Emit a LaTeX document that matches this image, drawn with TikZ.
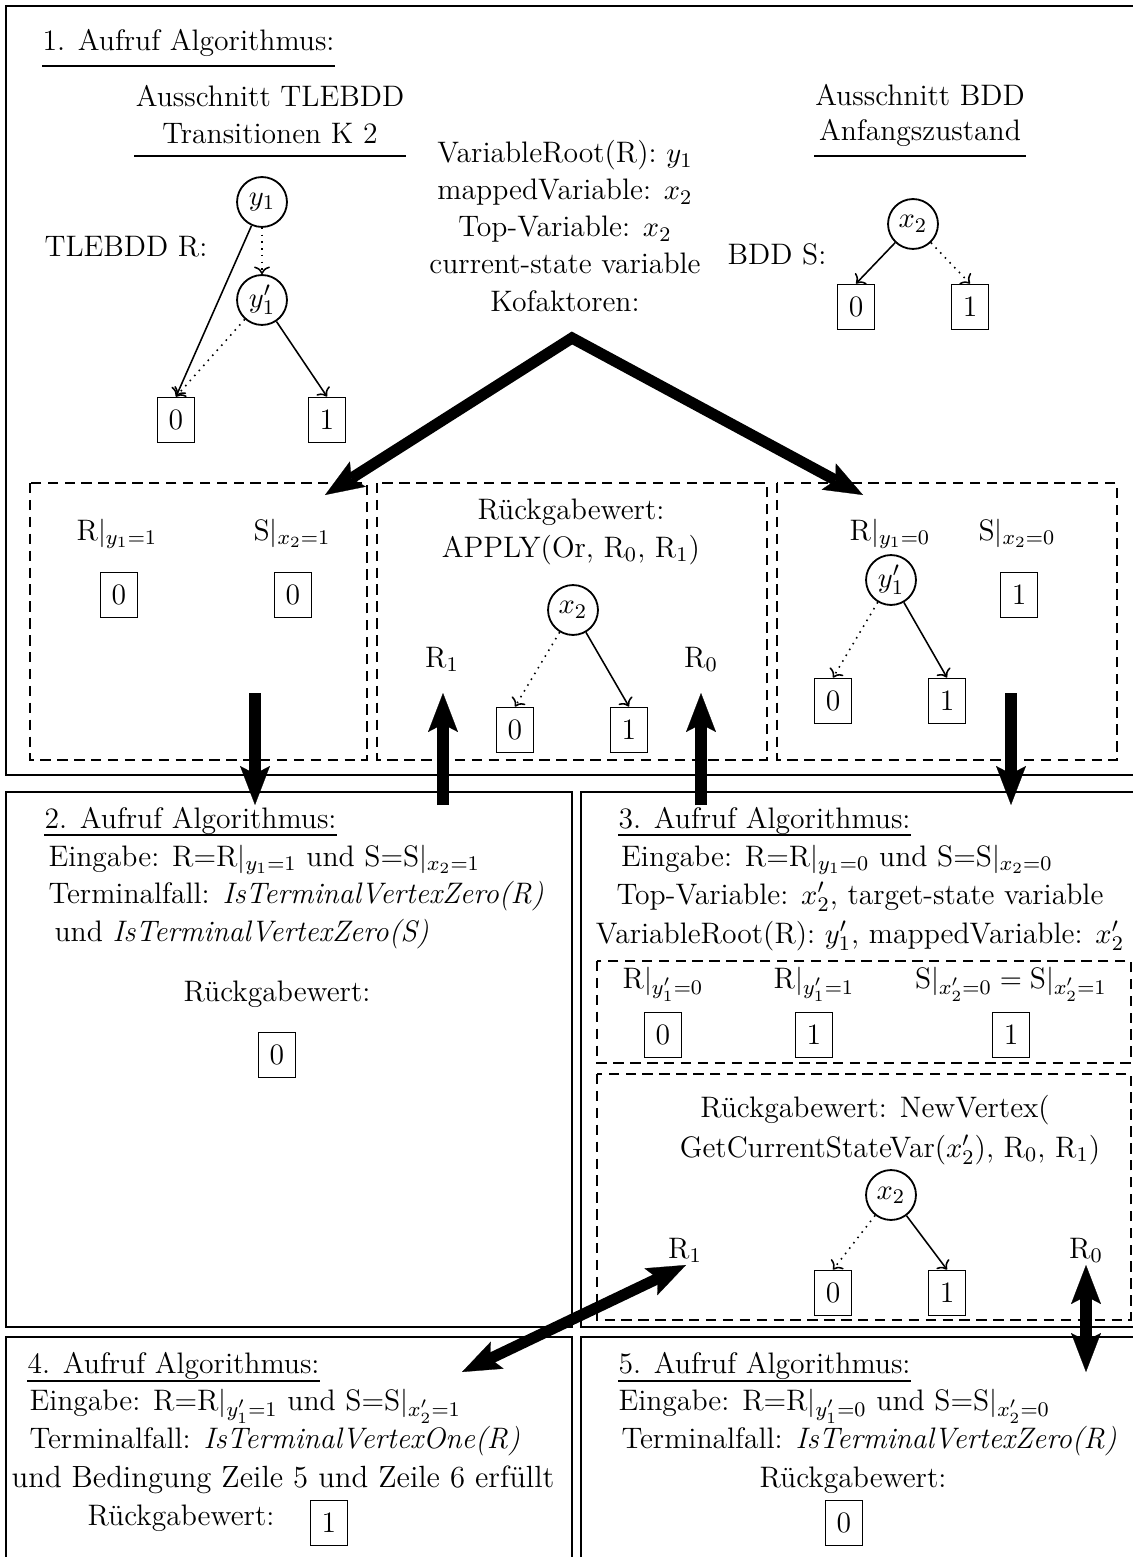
\documentclass[tikz,border=0pt]{standalone}
\usepackage{fontspec}
\usetikzlibrary{arrows.meta,calc}
\begin{document}
\begin{tikzpicture}[x=0.3846pt,y=-0.3846pt,
  font=\fontsize{11.4}{14}\selectfont,
  frame/.style={draw, line width=0.9pt},
  dbox/.style={draw, line width=0.8pt, dash pattern=on 4pt off 2.5pt},
  var/.style={circle, draw, line width=0.7pt, minimum size=19.2pt, inner sep=0pt},
  term/.style={draw, line width=0.7pt, minimum width=14.2pt, minimum height=17.3pt, inner sep=0pt},
  txt/.style={inner sep=0pt, anchor=base},
  txtl/.style={inner sep=0pt, anchor=base west},
  hi/.style={->, line width=0.6pt},
  lo/.style={->, line width=0.6pt, dotted},
  uline/.style={line width=0.8pt},
  bigtip/.tip={Stealth[length=15pt,width=11.5pt,inset=3pt,line width=0.1pt]},
  big/.style={line width=4.3pt, -bigtip},
  bigtwo/.style={line width=4.3pt, bigtip-bigtip},
]
\useasboundingbox (0,0) rectangle (1133,1557);

% frames
\draw[frame] (6,6) rectangle (1145,775);
\draw[frame] (6,792) rectangle (572,1327);
\draw[frame] (581,792) rectangle (1145,1327);
\draw[frame] (6,1337) rectangle (572,1575);
\draw[frame] (581,1337) rectangle (1145,1575);

% dashed boxes
\draw[dbox] (30,483) rectangle (367,760);
\draw[dbox] (377,483) rectangle (767,760);
\draw[dbox] (777,483) rectangle (1117,760);
\draw[dbox] (597,961) rectangle (1131,1063);
\draw[dbox] (597,1074) rectangle (1131,1320);

% ---------- Box 1 ----------
\node[txtl] (t1) at (42,51) {1. Aufruf Algorithmus:};
\draw[uline] ($(t1.base west)+(0,15)$) -- ($(t1.base east)+(0,15)$);

\node[txt] (tla) at (270,107) {Ausschnitt TLEBDD};
\node[txt] (tlb) at (270,144) {Transitionen K 2};
\draw[uline] ($(tlb.base)+(-136,12)$) -- ($(tlb.base)+(136,12)$);
\node[txt] (tlr) at (126,257) {TLEBDD R:};
\node[var] (ya) at (262,202) {$y_1$};
\node[var] (yb) at (262,300) {$y_1'$};
\node[term] (ra) at (176,420) {0};
\node[term] (rb) at (327,420) {1};
\draw[hi] (ya) -- (ra.north);
\draw[lo] (ya) -- (yb);
\draw[lo] (yb) -- (ra.north);
\draw[hi] (yb) -- (rb.north);

\node[txt] (vr) at (565,163) {VariableRoot(R): $y_1$};
\node[txt] (mv) at (565,200) {mappedVariable: $x_2$};
\node[txt] (tv) at (565,237) {Top-Variable: $x_2$};
\node[txt] (cs) at (565,274) {current-state variable};
\node[txt] (kf) at (565,311) {Kofaktoren:};

\node[txt] (ba) at (920,106) {Ausschnitt BDD};
\node[txt] (bb) at (920,141) {Anfangszustand};
\draw[uline] ($(bb.base)+(-106,15)$) -- ($(bb.base)+(106,15)$);
\node[txt] (bs) at (777,265) {BDD S:};
\node[var] (xa) at (913,224) {$x_2$};
\node[term] (sa) at (856,307) {0};
\node[term] (sb) at (970,307) {1};
\draw[hi] (xa) -- (sa.north);
\draw[lo] (xa) -- (sb.north);

\coordinate (apex) at ($(kf.base)+(7,27)$);
\coordinate (tipL) at (325,495);
\coordinate (tipR) at (863,495);
\draw[bigtwo] (tipL) -- (apex) -- (tipR);

% left dashed
\node[txt] (lr) at (117,540) {R$|_{y_1=1}$};
\node[txt] (ls) at (292,540) {S$|_{x_2=1}$};
\node[term] (lra) at (119,595) {0};
\node[term] (lsa) at (293,595) {0};

% middle dashed
\node[txt] (mr1) at (571,519) {Rückgabewert:};
\node[txt] (mr2) at (571,557) {APPLY(Or, R$_0$, R$_1$)};
\node[var] (mx) at (573,610) {$x_2$};
\node[txt] (mR1) at (442,667) {R$_1$};
\node[txt] (mR0) at (701,667) {R$_0$};
\node[term] (ma) at (515,730) {0};
\node[term] (mb) at (629,730) {1};
\draw[lo] (mx) -- (ma.north);
\draw[hi] (mx) -- (mb.north);

% right dashed
\node[txt] (rr) at (890,540) {R$|_{y_1=0}$};
\node[txt] (rs) at (1017,540) {S$|_{x_2=0}$};
\node[var] (ry) at (891,580) {$y_1'$};
\node[term] (rya) at (833,701) {0};
\node[term] (ryb) at (947,701) {1};
\node[term] (rsb) at (1019,595) {1};
\draw[lo] (ry) -- (rya.north);
\draw[hi] (ry) -- (ryb.north);

% vertical thick arrows
\coordinate (d1s) at (255,693); \coordinate (d1e) at (255,805);
\coordinate (u1s) at (443,805); \coordinate (u1e) at (443,693);
\coordinate (u2s) at (701,805); \coordinate (u2e) at (701,693);
\coordinate (d2s) at (1011,693); \coordinate (d2e) at (1011,805);
\draw[big] (d1s) -- (d1e);
\draw[big] (u1s) -- (u1e);
\draw[big] (u2s) -- (u2e);
\draw[big] (d2s) -- (d2e);

% ---------- Box 2 ----------
\node[txtl] (t2) at (44,828) {2. Aufruf Algorithmus:};
\draw[uline] ($(t2.base west)+(0,7)$) -- ($(t2.base east)+(0,7)$);
\node[txtl] (e2) at (48,866) {Eingabe: R=R$|_{y_1=1}$ und S=S$|_{x_2=1}$};
\node[txtl] (f2) at (48,903) {Terminalfall: \textit{IsTerminalVertexZero(R)}};
\node[txtl] (g2) at (54,941) {und \textit{IsTerminalVertexZero(S)}};
\node[txt] (r2) at (277,1001) {Rückgabewert:};
\node[term] (v2) at (277,1055) {0};

% ---------- Box 3 ----------
\node[txtl] (t3) at (618,828) {3. Aufruf Algorithmus:};
\draw[uline] ($(t3.base west)+(0,7)$) -- ($(t3.base east)+(0,7)$);
\node[txt] (e3) at (837,866) {Eingabe: R=R$|_{y_1=0}$ und S=S$|_{x_2=0}$};
\node[txt] (f3) at (860,904) {Top-Variable: $x_2'$, target-state variable};
\node[txt] (g3) at (860,943) {VariableRoot(R): $y_1'$, mappedVariable: $x_2'$};
\node[txt] (c1) at (663,988) {R$|_{y_1'=0}$};
\node[txt] (c2) at (814,988) {R$|_{y_1'=1}$};
\node[txt] (c3) at (1011,988) {S$|_{x_2'=0} = {}$S$|_{x_2'=1}$};
\node[term] (c1v) at (663,1035) {0};
\node[term] (c2v) at (814,1035) {1};
\node[term] (c3v) at (1011,1035) {1};
\node[txt] (n1) at (875,1117) {Rückgabewert: NewVertex(};
\node[txt] (n2) at (890,1157) {GetCurrentStateVar($x_2'$), R$_0$, R$_1$)};
\node[var] (nx) at (891,1195) {$x_2$};
\node[txt] (nR1) at (685,1258) {R$_1$};
\node[txt] (nR0) at (1086,1258) {R$_0$};
\node[term] (na) at (833,1293) {0};
\node[term] (nb) at (947,1293) {1};
\draw[lo] (nx) -- (na.north);
\draw[hi] (nx) -- (nb.north);

% ---------- Box 4 ----------
\node[txtl] (t4) at (27,1373) {4. Aufruf Algorithmus:};
\draw[uline] ($(t4.base west)+(0,8)$) -- ($(t4.base east)+(0,8)$);
\node[txtl] (e4) at (29,1410) {Eingabe: R=R$|_{y_1'=1}$ und S=S$|_{x_2'=1}$};
\node[txtl] (f4) at (29,1448) {Terminalfall: \textit{IsTerminalVertexOne(R)}};
\node[txt] (g4) at (283,1487) {\fontsize{11.8}{14}\selectfont und Bedingung Zeile 5 und Zeile 6 erfüllt};
\node[txt] (r4) at (181,1525) {Rückgabewert:};
\node[term] (v4) at (329,1523) {1};

% ---------- Box 5 ----------
\node[txtl] (t5) at (618,1373) {5. Aufruf Algorithmus:};
\draw[uline] ($(t5.base west)+(0,8)$) -- ($(t5.base east)+(0,8)$);
\node[txtl] (e5) at (618,1410) {Eingabe: R=R$|_{y_1'=0}$ und S=S$|_{x_2'=0}$};
\node[txtl] (f5) at (621,1448) {Terminalfall: \textit{IsTerminalVertexZero(R)}};
\node[txt] (r5) at (853,1487) {Rückgabewert:};
\node[term] (v5) at (844,1523) {0};

% double arrows
\coordinate (q1a) at (462,1372);
\coordinate (q1b) at ($(nR1.base)+(1,7)$);
\draw[bigtwo] (q1a) -- (q1b);
\coordinate (q2a) at ($(nR0.base)+(0,7)$);
\coordinate (q2b) at (1086,1372);
\draw[bigtwo] (q2a) -- (q2b);
\end{tikzpicture}
\end{document}
